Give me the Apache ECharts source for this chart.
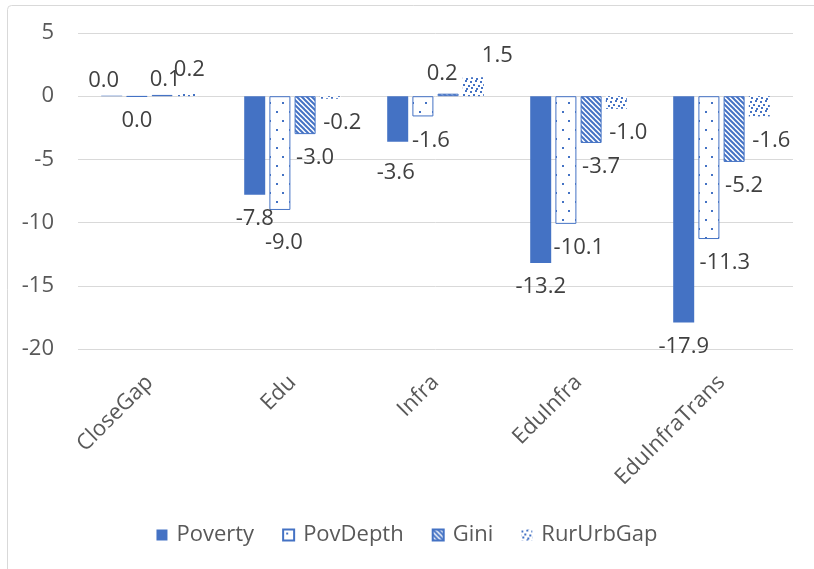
<!DOCTYPE html>
<html>
<head>
<meta charset="utf-8">
<script src="https://cdn.jsdelivr.net/npm/echarts@6/dist/echarts.min.js"></script>
<style>
html,body{margin:0;padding:0;background:#fff;}
#chart{width:814px;height:569px;}
</style>
</head>
<body>
<div id="chart"></div>
<script>
// ---- data ----
const categories = ['CloseGap', 'Edu', 'Infra', 'EduInfra', 'EduInfraTrans'];
const seriesNames = ['Poverty', 'PovDepth', 'Gini', 'RurUrbGap'];
const poverty   = [0.04, -7.8, -3.6, -13.2, -17.9];
const povDepth  = [-0.04, -9.0, -1.6, -10.1, -11.3];
const gini      = [0.1, -3.0, 0.2, -3.7, -5.2];
const rurUrbGap = [0.2, -0.2, 1.5, -1.0, -1.6];
const yTicks = { min: -20, max: 5, interval: 5 };

// ---- styles ----
const BLUE = '#4472C4';
const FONT = 'Open Sans';
const FS = 22;

function tile(w, h, draw) {
  const c = document.createElement('canvas');
  c.width = w; c.height = h;
  const ctx = c.getContext('2d');
  ctx.fillStyle = '#ffffff';
  ctx.fillRect(0, 0, w, h);
  ctx.fillStyle = BLUE;
  ctx.strokeStyle = BLUE;
  draw(ctx);
  return c;
}
const dotsPattern = tile(13, 18, ctx => {
  ctx.fillRect(3, 3, 2, 2);
  ctx.fillRect(9, 12, 2, 2);
});
const stripePattern = tile(5, 5, ctx => {
  ctx.lineWidth = 2;
  for (let k = -1; k <= 1; k++) {
    ctx.beginPath();
    ctx.moveTo(k * 5 - 1, -1);
    ctx.lineTo(k * 5 + 6, 6);
    ctx.stroke();
  }
});
const confettiPattern = tile(10, 10, ctx => {
  [[0, 1], [5, 0], [3, 4], [8, 5], [1, 7], [6, 8]].forEach(p => ctx.fillRect(p[0], p[1], 2, 2));
});

const seriesStyles = [
  { color: BLUE },
  { color: { image: dotsPattern, repeat: 'repeat' }, borderColor: BLUE, borderWidth: 1 },
  { color: { image: stripePattern, repeat: 'repeat' }, borderColor: BLUE, borderWidth: 1 },
  { color: { image: confettiPattern, repeat: 'repeat' } }
];
// horizontal label shift for below-bar labels (Excel spreads them to the right)
const negLabelShift = [0, 8, 10, 12];
// individual overlap nudges, keyed "series|category"
const labelNudge = {
  'Poverty|CloseGap': [-8, 0],
  'PovDepth|CloseGap': [-8, 0],
  'Gini|CloseGap': [3, 0],
  'RurUrbGap|CloseGap': [2, -9],
  'PovDepth|Edu': [-4, 9],
  'Poverty|Infra': [-2, 7],
  'Gini|Infra': [-6, -5],
  'RurUrbGap|Infra': [24, -7],
  'PovDepth|EduInfra': [5, 0],
  'PovDepth|EduInfraTrans': [8, 0]
};

function fmt(v) {
  const s = v.toFixed(1);
  return (s === '-0.0') ? '0.0' : s;
}

const allValues = [poverty, povDepth, gini, rurUrbGap];

const series = allValues.map((vals, i) => ({
  name: seriesNames[i],
  type: 'bar',
  barWidth: 21,
  barGap: '20%',
  itemStyle: seriesStyles[i],
  data: vals.map((v, j) => {
    const nudge = labelNudge[seriesNames[i] + '|' + categories[j]] || [0, 0];
    const base = v < 0 ? [negLabelShift[i], 0] : [0, 0];
    return {
      value: v,
      label: {
        position: v < 0 ? 'bottom' : 'top',
        distance: v < 0 ? 13 : 4,
        offset: [base[0] + nudge[0], base[1] + nudge[1]]
      }
    };
  }),
  label: {
    show: true,
    color: '#404040',
    fontFamily: FONT,
    fontSize: FS,
    formatter: p => fmt(p.value)
  }
}));

const chart = echarts.init(document.getElementById('chart'), null, { renderer: 'canvas' });
chart.setOption({
  animation: false,
  backgroundColor: '#ffffff',
  textStyle: { fontFamily: FONT },
  graphic: [{
    type: 'rect',
    shape: { x: 7.5, y: 5.5, width: 830, height: 600, r: 4 },
    style: { fill: 'none', stroke: '#d9d9d9', lineWidth: 1 },
    silent: true
  }],
  grid: { left: 78, right: 21, top: 33, bottom: 220, containLabel: false },
  legend: {
    data: seriesNames,
    bottom: 18,
    left: 'center',
    itemWidth: 11,
    itemHeight: 11,
    itemGap: 28,
    icon: 'rect',
    textStyle: { color: '#595959', fontFamily: FONT, fontSize: FS, padding: [0, 0, 0, 4] }
  },
  xAxis: {
    type: 'category',
    data: categories,
    position: 'bottom',
    axisLine: { show: false, onZero: false },
    axisTick: { show: false },
    axisLabel: {
      rotate: 45,
      margin: 30,
      color: '#595959',
      fontFamily: FONT,
      fontSize: FS,
      interval: 0
    }
  },
  yAxis: {
    type: 'value',
    min: yTicks.min,
    max: yTicks.max,
    interval: yTicks.interval,
    axisLine: { show: false },
    axisTick: { show: false },
    splitLine: { lineStyle: { color: '#d9d9d9', width: 1 } },
    axisLabel: {
      color: '#595959',
      fontFamily: FONT,
      fontSize: FS,
      margin: 24
    }
  },
  series: series
});
</script>
</body>
</html>
